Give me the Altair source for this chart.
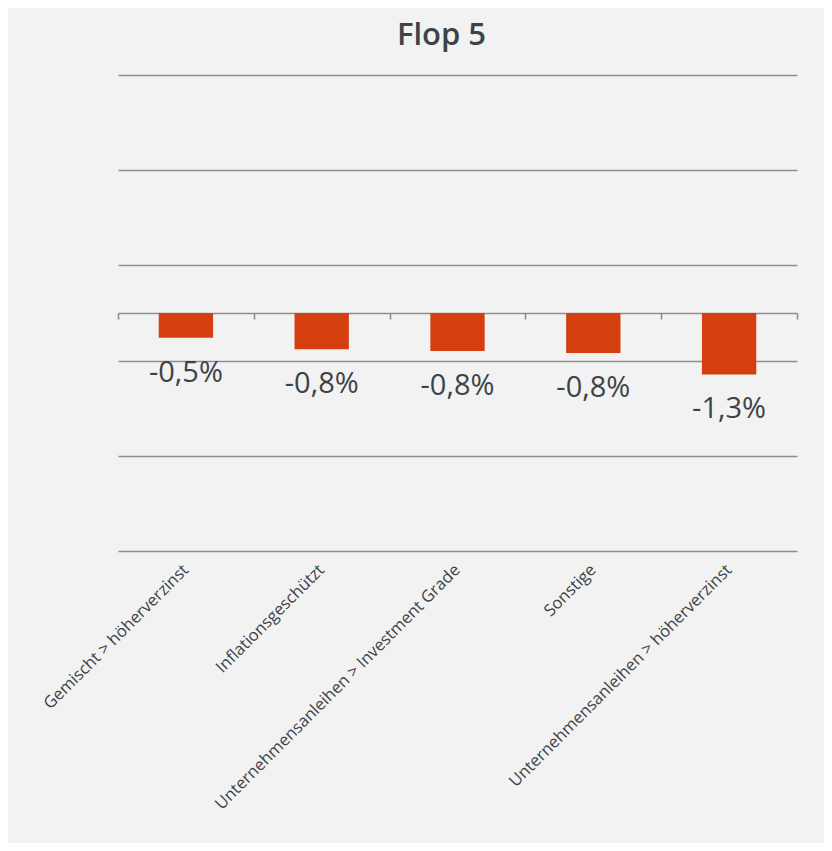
import altair as alt
import pandas as pd

categories = [
    "Gemischt > höherverzinst",
    "Inflationsgeschützt",
    "Unternehmensanleihen > Investment Grade",
    "Sonstige",
    "Unternehmensanleihen > höherverzinst",
]
values = [-0.52, -0.76, -0.80, -0.84, -1.29]
labels = ["-0,5%", "-0,8%", "-0,8%", "-0,8%", "-1,3%"]
grid_values = [-5, -3, -1, 1, 3, 5]

df = pd.DataFrame({"cat": categories, "val": values, "lab": labels})

FONT = "Open Sans"
TXT = "#3c4448"
GRID = "#8e8e8e"
BAR = "#d53e0f"

xscale = alt.Scale(domain=categories, paddingInner=0, paddingOuter=0)
yscale = alt.Scale(domain=[-5, 5], nice=False)

yaxis = alt.Axis(values=grid_values, labels=False, ticks=False, domain=False,
                 grid=True, gridColor=GRID, gridWidth=1.6, title=None)

label_axis = alt.Axis(title=None, labelAngle=-45, labelAlign="right", labelBaseline="middle",
                      labelPadding=16, ticks=False, domain=False, grid=False,
                      labelFont=FONT, labelFontSize=16.5, labelColor=TXT, labelLimit=0)

zero_axis = alt.Axis(title=None, labels=False, ticks=True, tickBand="extent", tickSize=6,
                     tickColor=GRID, tickWidth=1.6, domain=True, domainColor=GRID,
                     domainWidth=1.6, grid=False, offset=-238, orient="bottom")

bars = alt.Chart(df).mark_bar(color=BAR, width=alt.RelativeBandSize(0.4)).encode(
    x=alt.X("cat:N", scale=xscale, sort=categories, axis=label_axis),
    y=alt.Y("val:Q", scale=yscale, axis=yaxis),
)

texts = alt.Chart(df).mark_text(font=FONT, fontSize=29, color=TXT, baseline="alphabetic",
                                align="center", dy=44).encode(
    x=alt.X("cat:N", scale=xscale, sort=categories, axis=zero_axis),
    y=alt.Y("val:Q", scale=yscale, axis=yaxis),
    text="lab:N",
)

chart = alt.layer(bars, texts).resolve_axis(x="independent").properties(
    width=679,
    height=476,
    autosize=alt.AutoSizeParams(type="none"),
    padding={"left": 110, "top": 67, "right": 27, "bottom": 292},
    background="#f2f2f2",
    title=alt.TitleParams("Flop 5", font=FONT, fontSize=31, fontWeight=600, color=TXT,
                          anchor="middle", dx=-16, offset=23),
).configure_view(stroke=None)

chart.save("out.html", embed_options={"renderer": "svg", "actions": False})
